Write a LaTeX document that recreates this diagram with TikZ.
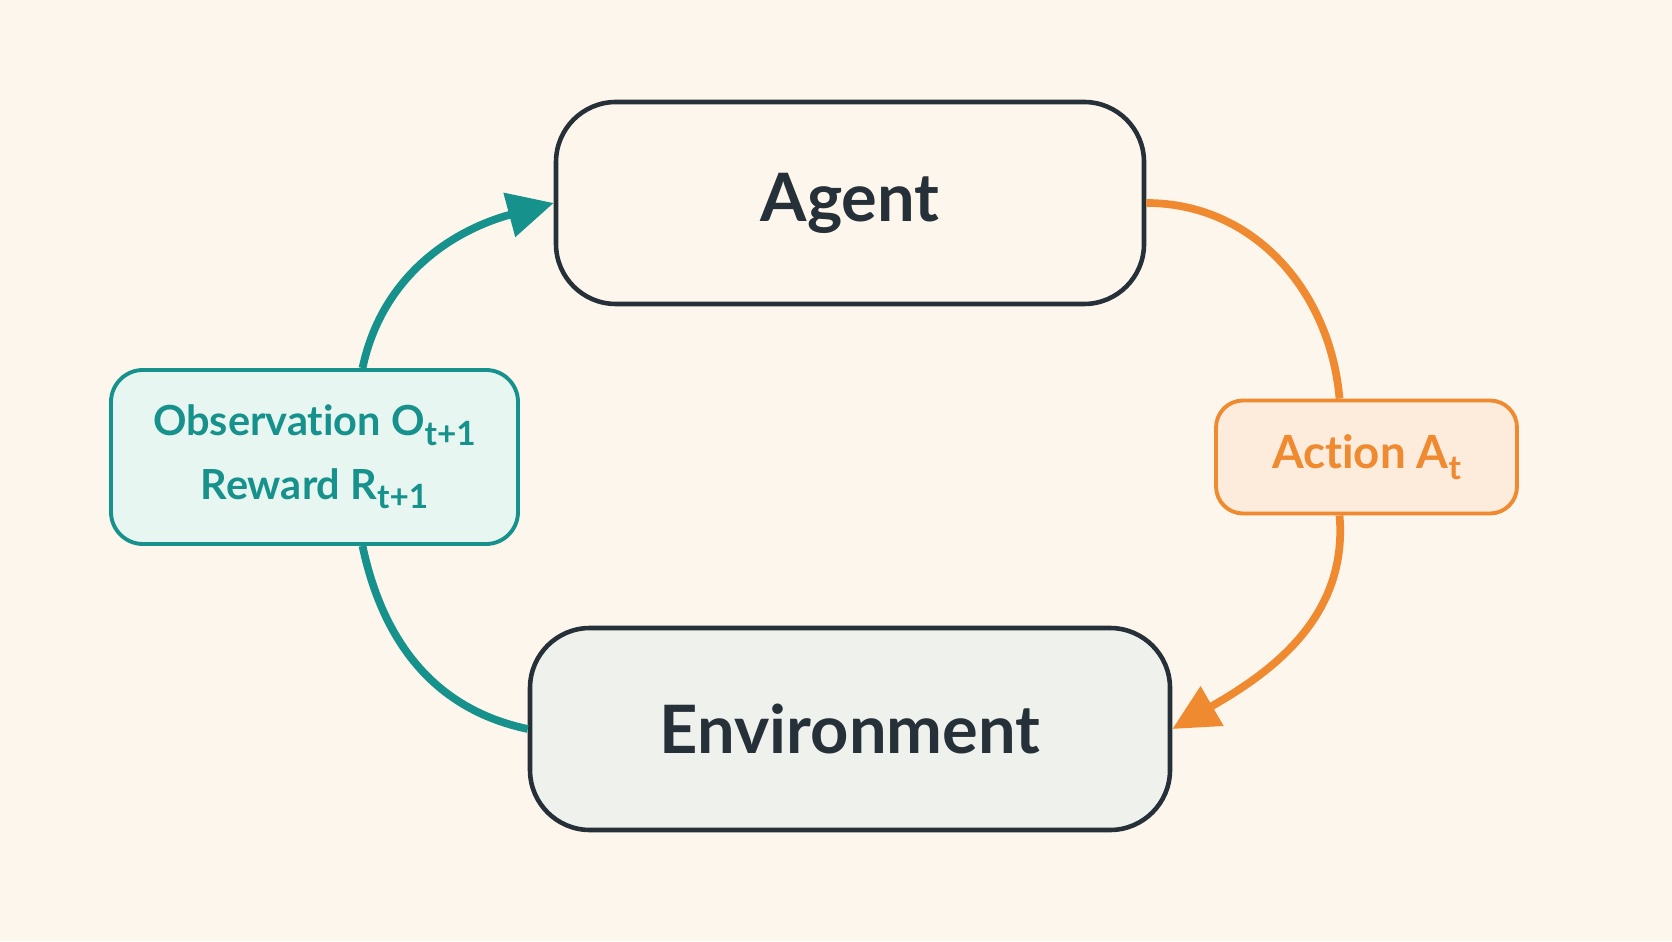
\documentclass[tikz,border=0pt]{standalone}
\usepackage{fontspec}
\setmainfont[Ligatures=NoCommon]{Lato}
\usepackage{tikz}
\usetikzlibrary{arrows.meta,calc,positioning}
\definecolor{RlCream}{HTML}{FDF6EC}
\definecolor{RlInk}{HTML}{263038}
\definecolor{RlTeal}{HTML}{17918B}
\definecolor{RlTealFill}{HTML}{E8F6F2}
\definecolor{RlOrange}{HTML}{F08A30}
\definecolor{RlOrangeFill}{HTML}{FDEBDB}
\definecolor{RlEnvFill}{HTML}{EFF2EC}
\newcommand{\RlSub}[1]{\raisebox{-0.45ex}{\fontsize{9.5}{9.5}\selectfont #1}}
\tikzset{
  mainbox/.style={draw=RlInk,line width=1.3pt,rounded corners=0.6cm,
    minimum height=2.02cm,font=\fontsize{19}{24}\selectfont\bfseries,text=RlInk},
  tealbox/.style={draw=RlTeal,fill=RlTealFill,line width=1.1pt,rounded corners=0.32cm,
    minimum width=4.07cm,minimum height=1.74cm,align=center,
    font=\fontsize{11.8}{18}\selectfont\bfseries,text=RlTeal},
  orangebox/.style={draw=RlOrange,fill=RlOrangeFill,line width=1.1pt,rounded corners=0.27cm,
    minimum width=3.01cm,minimum height=1.13cm,
    font=\fontsize{13}{18}\selectfont\bfseries,text=RlOrange},
  tealflow/.style={RlTeal,line width=2.2pt},
  orangeflow/.style={RlOrange,line width=2.2pt},
  bigtip/.style={-{Triangle[length=4.6mm,width=4.4mm]}}
}
\begin{document}
\begin{tikzpicture}
  \fill[RlCream] (0,0) rectangle (16.72,9.41);
  \useasboundingbox (0,0) rectangle (16.72,9.41);
  % loop boxes
  \node[mainbox,fill=RlCream,minimum width=5.88cm] (agent) at (8.50,7.38) {Agent};
  \node[mainbox,fill=RlEnvFill,minimum width=6.40cm] (env) at (8.50,2.12) {Environment};
  \node[tealbox] (obs) at (3.145,4.84) {Observation O\RlSub{t+1}\\Reward R\RlSub{t+1}};
  \node[orangebox] (act) at (13.665,4.84) {Action A\RlSub{t}};
  % flows
  \draw[orangeflow] (agent.east) to[out=0,in=95] ([xshift=-2.7mm]act.north);
  \draw[orangeflow,bigtip] ([xshift=-2.7mm]act.south) to[out=-85,in=30] (env.east);
  \draw[tealflow] (env.west) to[out=168,in=-78] ([xshift=4.8mm]obs.south);
  \draw[tealflow,bigtip] ([xshift=4.8mm]obs.north) to[out=78,in=195] (agent.west);
\end{tikzpicture}
\end{document}
